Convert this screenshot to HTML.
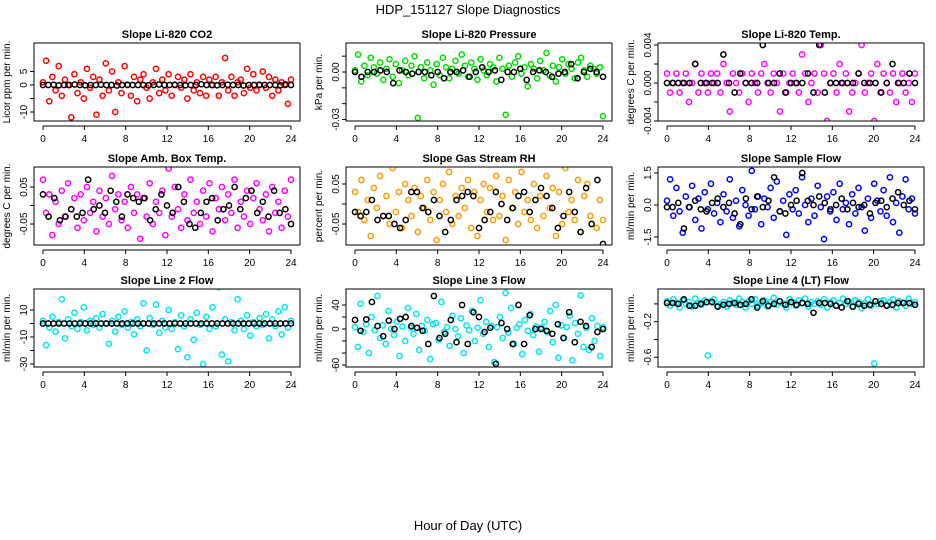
<!DOCTYPE html>
<html><head><meta charset="utf-8"><style>
html,body{margin:0;padding:0;background:#fff}
svg{display:block;font-family:"Liberation Sans",sans-serif}
</style></head><body>
<svg id="chart" width="936" height="540" viewBox="0 0 936 540">
<text x="468" y="14" text-anchor="middle" font-size="13">HDP_151127  Slope Diagnostics</text>
<text x="468" y="530" text-anchor="middle" font-size="13">Hour of Day (UTC)</text>
</svg>
<script>
const hourTicks=[0,4,8,12,16,20,24];
const co2Red=[1,9,-6,3,-2,7,-4,2,0,-12,4,-3,1,-5,6,-1,3,-11,2,-4,8,-2,5,-10,1,-3,7,0,-4,3,-6,2,4,-1,-5,1,6,-3,2,-2,4,-4,0,3,-1,2,-5,4,-2,1,-3,3,-4,2,0,3,-4,1,10,-2,3,-4,1,2,-3,6,-1,4,-2,0,5,-1,3,-4,2,-2,1,0,-7,2];
const co2Black=[0,0,.1,-.1,0,0,.2,0,-.1,0,0,.1,0,0,-.2,0,.1,0,0,0,-.1,0,.2,0,0,.1,0,-.1,0,0,.3,0,0,-.1,0,.1,0,0,-.2,0,0,.1,0,0,0,-.1,.2,0];
const presGreen=[.001,.011,-.006,.004,-.002,.009,.003,-.001,.006,-.005,.002,.008,-.003,.005,-.007,.001,.007,-.002,.004,.010,-.029,.003,-.004,.006,.001,-.008,.005,-.002,.009,.003,-.004,.002,.007,-.001,.011,.004,-.003,.006,.002,-.005,.008,.001,-.002,.005,.003,-.006,.009,.002,-.027,.004,-.003,.006,.010,-.001,.003,-.009,.005,.002,-.004,.007,.001,.012,-.002,.004,-.006,.003,.008,-.001,.005,.002,-.004,.006,.009,.001,-.003,.004,.002,-.001,.003,-.028];
const presBlack=[0,-.003,0,0,.001,0,-.007,.001,0,-.001,0,0,-.002,0,-.004,0,0,.001,-.003,0,.003,0,.001,-.005,0,0,.002,-.005,0,.001,0,-.003,-.001,0,.005,-.004,0,.002,0,-.003];
const tempMag=[.001,-.001,0,.001,-.001,0,.001,-.002,0,.002,-.001,.001,0,-.001,.001,0,.001,-.001,.002,0,-.003,.001,0,-.001,.001,0,-.002,.001,0,-.001,.001,.002,0,-.001,.001,0,-.003,.001,-.001,0,.001,0,-.001,.003,.001,-.002,0,.001,-.001,.004,.001,-.004,0,.001,-.001,.002,0,.001,-.003,-.001,0,.001,.004,-.001,0,.001,-.004,.002,-.001,.001,0,-.001,.001,-.002,0,.001,-.001,0,-.002,.001];
const tempBlack=[0,0,0,0,0,.002,0,0,0,0,.003,0,-.001,.001,0,0,0,.004,0,0,.001,-.001,0,0,0,.001,-.001,.004,-.001,0,0,0,0,0,.001,0,0,0,-.001,0,.002,0,0,.001,0];
const ambMag=[.07,-.02,.03,-.08,.01,-.05,.04,-.03,.06,-.01,.02,-.06,.03,-.04,.05,-.02,.01,-.07,.04,-.03,.02,-.05,.08,-.01,.03,-.04,.01,-.06,.05,-.02,.03,-.09,.02,-.03,.06,-.05,.01,-.02,.04,-.08,.10,-.03,.05,-.01,-.06,.03,-.04,.07,-.02,.01,-.05,.04,-.03,.06,-.07,.02,-.01,.05,-.04,.03,-.02,.07,-.06,.01,-.03,.04,-.05,.02,.06,-.01,-.04,.03,-.07,.05,-.02,.01,-.06,.04,-.03,.07];
const ambBlack=[.03,-.03,.02,-.04,-.03,-.01,-.03,-.02,.07,-.01,0,-.02,.04,.01,-.03,.03,.02,.01,.02,-.04,-.01,.03,0,-.02,.05,.01,-.05,-.06,-.02,.01,.02,-.04,-.01,0,.05,-.01,.02,.04,-.02,.01,-.03,.04,-.02,-.01,-.05];
const rhOrange=[.03,-.02,.06,-.04,.01,-.08,.04,-.01,.07,-.03,.02,-.05,.09,-.02,.03,-.06,.05,.01,-.03,.04,-.07,.02,-.01,.06,-.04,.03,-.09,.01,.05,-.02,.08,-.05,.02,-.03,.04,-.01,.06,-.06,.03,-.08,.01,.05,-.02,.04,-.04,.07,-.03,.02,-.09,.06,-.01,.03,-.05,.08,-.02,.01,-.04,.05,-.06,.02,-.03,.07,-.01,.04,-.08,.03,-.05,.09,-.02,.01,-.04,.06,-.07,.02,.05,-.03,.10,-.06,.01,-.04];
const rhBlack=[-.02,-.03,-.02,.01,-.04,-.03,-.03,-.05,-.06,-.04,.03,.03,-.01,-.02,.01,-.03,-.07,-.04,.01,.02,.03,.02,-.06,-.04,-.02,.03,0,-.04,-.01,.02,.03,-.02,.01,.04,.02,-.01,-.06,-.03,.03,-.02,-.07,.04,-.05,.06,-.1];
const flowBlue=[.2,1.2,-.5,.8,-.3,-1.3,.4,-.1,.9,-.7,.3,-1.1,.6,-.2,1.0,-.4,.1,-.8,.5,-.3,1.2,-.6,.2,-1.0,.7,0,-.5,1.6,-.2,.4,-.9,.3,-.1,.8,-.6,1.1,-.3,.2,-1.4,.5,-.2,.7,-.4,1.3,0,-.8,.3,-.5,.9,-.1,-1.6,.4,-.3,.6,-.7,1.0,-.2,.1,-.9,.5,-.4,.8,-.1,-1.2,.3,-.6,1.0,.2,-.3,.7,-.5,1.3,-.8,.1,-1.3,.4,1.2,-.2,.3,-.4];
const flowBlack=[-.1,-.1,.1,-1.1,-.1,.2,-.2,-.3,.1,.3,-.1,.1,-.4,-.9,.3,-.2,.4,-.1,.2,1.3,-.3,-.4,0,.2,1.5,.2,0,.4,.1,-.2,0,.3,-.2,.1,-.1,0,-.4,.1,.2,-.1,.3,.6,0,.2,-.2];
const line2Cyan=[2,-16,-3,5,-6,1,18,-11,3,-2,8,-4,1,12,-5,2,-1,4,-3,7,0,-15,2,-6,5,-1,9,-3,1,-8,3,-2,15,-20,4,-1,14,-7,2,-3,10,-4,1,-19,6,-2,-25,3,-12,8,-1,-30,5,-4,12,-2,27,-23,3,-28,1,-5,18,2,-4,6,-9,1,-2,4,-1,7,-11,3,-2,9,-8,12,-3,2];
const line2Black=[0,0,0,0,0,0,0,0,0,0,0,0,0,0,0,0,0,0,0,0,0,0,0,0,0,0,0,0,0,0,0,0,0,0,0,0,0,0,0,0,0,0,0,0,0,0,0,0];
const line3Cyan=[3,-30,42,-5,8,-40,20,-2,55,-15,6,-25,30,0,-10,12,-45,4,-20,35,2,-8,25,-35,5,-3,15,-50,8,10,-18,45,-5,3,-28,22,0,-12,18,-40,6,-2,30,-20,2,48,-8,12,-30,5,-55,3,20,-15,60,-6,35,-25,2,8,-42,15,-3,25,-10,4,-38,2,12,-5,30,-22,40,-48,6,-15,3,22,-52,10,-8,56,-30,2,-35,18,-20,5,-45,3];
const line3Black=[15,-3,16,45,5,-12,14,0,17,20,5,2,-3,-25,55,-15,-8,15,-22,40,-25,28,20,-5,2,-58,10,0,-25,40,-25,23,0,0,-3,-8,8,-15,28,-22,12,5,-30,-5,0];
const line4Cyan=[.03,-.02,.05,.01,-.04,.04,0,.02,-.03,.06,.01,-.01,.04,-.58,.03,.05,-.02,0,.02,-.03,.04,.01,-.01,.06,.02,-.04,.03,0,.05,-.02,.01,.04,-.03,.02,.07,-.01,.03,0,-.04,.05,.02,-.02,.04,.01,.06,-.03,.02,0,.03,-.01,.05,-.04,.02,.04,-.02,.01,.06,0,.03,-.03,.04,.02,-.05,.01,.05,-.02,-.67,0,.03,.04,-.01,.02,.05,-.04,.03,.01,-.02,.06,0,.02];
const line4Black=[.01,.01,0,.05,-.02,-.02,0,.02,.02,-.03,-.01,0,.01,-.01,0,.05,-.04,.03,-.02,0,.03,-.01,.02,-.01,.01,0,-.1,.01,.01,0,-.02,-.04,.03,-.03,0,-.02,-.01,.03,0,-.02,-.01,.01,.01,.01,-.01];

const NS='http://www.w3.org/2000/svg';
const svg=document.getElementById('chart');
function mk(tag,attrs,parent){const e=document.createElementNS(NS,tag);for(const k in attrs)e.setAttribute(k,attrs[k]);(parent||svg).appendChild(e);return e;}
const colX0=[43,355,667], rowTop=[43,167,289], H=78, PXH=248/24;
const panels=[
 {c:0,r:0,key:'co2',title:'Slope Li-820 CO2',ylab:'Licor ppm per min.',cal:[0,85,5,71.5],ticks:[[5,'5'],[0,'0'],[-5,''],[-10,'-10']],col:'#ff0000',a:co2Red,b:co2Black},
 {c:1,r:0,key:'pressure',title:'Slope Li-820 Pressure',ylab:'kPa per min.',cal:[0,72,-0.03,119.5],ticks:[[0.01,''],[0,'0.00'],[-0.01,''],[-0.02,''],[-0.03,'-0.03']],col:'#00dd00',a:presGreen,b:presBlack},
 {c:2,r:0,key:'temp',title:'Slope Li-820 Temp.',ylab:'degrees C per min.',cal:[0.004,45,-0.004,121],ticks:[[0.004,'0.004'],[0.002,''],[0,'0.000'],[-0.002,''],[-0.004,'-0.004']],col:'#ff00ff',a:tempMag,b:tempBlack},
 {c:0,r:1,key:'amb-box-temp',title:'Slope Amb. Box Temp.',ylab:'degrees C per min.',cal:[0.05,187,-0.05,224],ticks:[[0.05,'0.05'],[0,''],[-0.05,'-0.05']],col:'#ff00ff',a:ambMag,b:ambBlack},
 {c:1,r:1,key:'gas-rh',title:'Slope Gas Stream RH',ylab:'percent per min.',cal:[0.05,184,-0.05,224],ticks:[[0.05,'0.05'],[0,''],[-0.05,'-0.05']],col:'#ff9900',a:rhOrange,b:rhBlack},
 {c:2,r:1,key:'sample-flow',title:'Slope Sample Flow',ylab:'ml/min per min.',cal:[1.5,173,-1.5,237],ticks:[[1.5,'1.5'],[0,'0.0'],[-1.5,'-1.5']],col:'#0000ff',a:flowBlue,b:flowBlack},
 {c:0,r:2,key:'line2-flow',title:'Slope Line 2 Flow',ylab:'ml/min per min.',cal:[10,310,-30,364],ticks:[[10,'10'],[0,''],[-10,'-10'],[-20,''],[-30,'-30']],col:'#00e5ee',a:line2Cyan,b:line2Black},
 {c:1,r:2,key:'line3-flow',title:'Slope Line 3 Flow',ylab:'ml/min per min.',cal:[40,305,-60,365],ticks:[[40,'40'],[20,''],[0,'0'],[-20,''],[-40,''],[-60,'-60']],col:'#00e5ee',a:line3Cyan,b:line3Black},
 {c:2,r:2,key:'line4-flow',title:'Slope Line 4 (LT) Flow',ylab:'ml/min per min.',cal:[-0.2,321.7,-0.6,357.3],ticks:[[0,''],[-0.2,'-0.2'],[-0.4,''],[-0.6,'-0.6']],col:'#00e5ee',a:line4Cyan,b:line4Black}
];
panels.forEach(p=>{
 const x0=colX0[p.c], top=rowTop[p.r], bot=top+H, left=x0-9, right=x0+257;
 const [v1,p1,v2,p2]=p.cal; const k=(p2-p1)/(v2-v1);
 const ys=v=>p1+(v-v1)*k; const xs=h=>x0+h*PXH;
 const g=mk('g',{});
 
 
 const t=mk('text',{x:(left+right)/2,y:top-5,'text-anchor':'middle','font-size':11,'font-weight':'bold'},g);t.textContent=p.title;
 
 
 const yl=mk('text',{x:0,y:0,'text-anchor':'middle','font-size':10,transform:`translate(${left-24},${(top+bot)/2}) rotate(-90)`},g);yl.textContent=p.ylab;
 
 
 const pts=mk('g',{fill:'none','stroke-width':1.5},g);
 
 
 const clipId='clip'+p.key; const cp=mk('clipPath',{id:clipId},g); mk('rect',{x:left,y:top,width:right-left,height:H},cp);
 pts.setAttribute('clip-path','url(#'+clipId+')');
 const draw=(arr,color,name)=>arr.forEach((v,i)=>{const h=arr.length>1?i*24/(arr.length-1):0;
  const c=mk('circle',{cx:xs(h).toFixed(1),cy:ys(v).toFixed(1),r:2.6,stroke:color},pts);
  
  });
 draw(p.a,p.col,'point-colored');
 draw(p.b,'#000','point-black');
 const box=mk('rect',{x:left,y:top,width:right-left,height:H,fill:'none',stroke:'#000','stroke-width':1},g);
 
 
 const xa=mk('line',{x1:xs(0),x2:xs(24),y1:bot+5,y2:bot+5,stroke:'#000'},g);
 
 
 hourTicks.forEach(h=>{mk('line',{x1:xs(h),x2:xs(h),y1:bot+5,y2:bot+9,stroke:'#000'},g);
  const tl=mk('text',{x:xs(h),y:bot+21,'text-anchor':'middle','font-size':10},g);tl.textContent=h;
  
  });
 p.ticks.forEach(([v,l])=>{const y=ys(v);mk('line',{x1:left-4,x2:left,y1:y,y2:y,stroke:'#000'},g);
  if(l){const tl=mk('text',{x:0,y:0,'text-anchor':'middle','font-size':10,transform:`translate(${left-7},${y}) rotate(-90)`},g);tl.textContent=l;
  
  }});
});
</script>
</body></html>
